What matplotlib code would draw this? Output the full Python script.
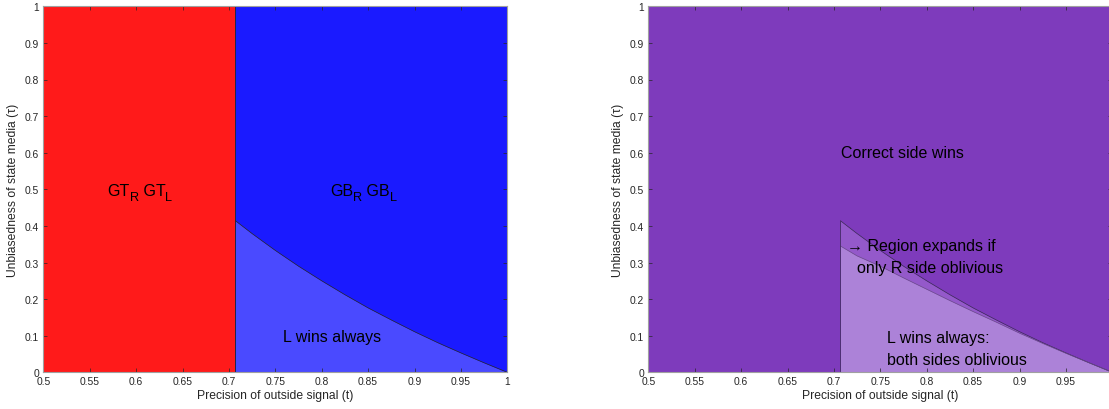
import matplotlib
matplotlib.use("Agg")
import matplotlib.pyplot as plt
from matplotlib.transforms import offset_copy

plt.rcParams["font.family"] = ["Liberation Sans", "DejaVu Sans"]

# Threshold of outside-signal precision where the regimes switch
t_switch = 0.7071

# Boundary of the "L wins always" region (both sides oblivious)
t_both = [0.7071, 0.725, 0.75, 0.775, 0.80, 0.825, 0.85, 0.875, 0.90, 0.925, 0.95, 0.975, 1.0]
r_both = [0.414, 0.379, 0.333, 0.290, 0.250, 0.212, 0.176, 0.143, 0.111, 0.081, 0.053, 0.026, 0.0]

# Boundary when only the R side is oblivious
t_ronly = [0.7071, 0.725, 0.75, 0.775, 0.80, 0.825, 0.85, 0.875, 0.90, 0.925, 0.95, 0.975, 1.0]
r_ronly = [0.345, 0.318, 0.290, 0.258, 0.227, 0.196, 0.166, 0.137, 0.107, 0.079, 0.052, 0.026, 0.0]

x_ticks = [0.5, 0.55, 0.6, 0.65, 0.7, 0.75, 0.8, 0.85, 0.9, 0.95, 1.0]
x_ticklabels = ["0.5", "0.55", "0.6", "0.65", "0.7", "0.75", "0.8", "0.85", "0.9", "0.95", "1"]
y_ticks = [0, 0.1, 0.2, 0.3, 0.4, 0.5, 0.6, 0.7, 0.8, 0.9, 1.0]
y_ticklabels = ["0", "0.1", "0.2", "0.3", "0.4", "0.5", "0.6", "0.7", "0.8", "0.9", "1"]

RED = "#FF1A1A"
BLUE = "#1A1AFF"
LIGHT_BLUE = "#4A4AFF"
PURPLE = "#7E3BBC"
MID_PURPLE = "#9459CA"
LIGHT_PURPLE = "#AC82D8"
EDGE = "#262626"
TICK = "#262626"
FS = 11.5

W, H = 1109, 410
fig = plt.figure(figsize=(W / 100, H / 100), dpi=100)
renderer = fig.canvas.get_renderer()

def px_axes(x0, y_top, w, h):
    return fig.add_axes([x0 / W, (H - y_top - h) / H, w / W, h / H])

ax1 = px_axes(43.3, 7.3, 464, 366)
ax2 = px_axes(648.3, 7.3, 464, 366)


def style(ax, xt, xtl):
    ax.set_xlim(0.5, 1.0)
    ax.set_ylim(0, 1)
    ax.set_xticks(xt)
    ax.set_xticklabels(xtl)
    ax.set_yticks(y_ticks)
    ax.set_yticklabels(y_ticklabels)
    ax.tick_params(direction="in", length=3, width=0.5, colors=TICK,
                   labelsize=7.4, top=True, right=True, pad=3)
    for s in ax.spines.values():
        s.set_color("#a0a0a0")
        s.set_linewidth(0.8)
    ax.set_xlabel("Precision of outside signal (t)", fontsize=8.7, color=TICK, labelpad=2)
    ax.set_ylabel("Unbiasedness of state media (τ)", fontsize=8.7, color=TICK, labelpad=4)


def subscripted(ax, x, y, parts):
    """Draw a run of (text, is_subscript) pieces starting at data point (x, y)."""
    dx = 0.0
    for txt, sub in parts:
        size = FS * 0.8 if sub else FS
        dy = -4.0 if sub else 0.0
        tr = offset_copy(ax.transData, fig=fig, x=dx, y=dy, units="points")
        t = ax.text(x, y, txt, fontsize=size, va="baseline", ha="left", transform=tr)
        dx += t.get_window_extent(renderer).width * 72.0 / fig.dpi


# Left panel: regimes by outside-signal precision
ax1.axvspan(0.5, t_switch, color=RED, lw=0)
ax1.axvspan(t_switch, 1.0, color=BLUE, lw=0)
ax1.fill_between(t_both, 0, r_both, color=LIGHT_BLUE, lw=0)
ax1.plot(t_both, r_both, color=EDGE, lw=0.5)
ax1.plot([t_switch, t_switch], [0, 1], color=EDGE, lw=0.6)
style(ax1, x_ticks, x_ticklabels)

subscripted(ax1, 0.569, 0.485, [("GT", False), ("R", True), (" GT", False), ("L", True)])
subscripted(ax1, 0.809, 0.485, [("GB", False), ("R", True), (" GB", False), ("L", True)])
ax1.text(0.7586, 0.098, "L wins always", fontsize=FS, va="center", ha="left")

# Right panel: who wins depending on which side is oblivious
ax2.axvspan(0.5, 1.0, color=PURPLE, lw=0)
ax2.fill_between(t_both, 0, r_both, color=MID_PURPLE, lw=0)
ax2.fill_between(t_ronly, 0, r_ronly, color=LIGHT_PURPLE, lw=0)
ax2.plot(t_both, r_both, color="#3a2a55", lw=0.5)
ax2.plot(t_ronly, r_ronly, color="#6a4a8a", lw=0.5)
ax2.plot([t_switch, t_switch], [0, r_both[0]], color="#3a2a55", lw=0.5)
style(ax2, x_ticks[:-1], x_ticklabels[:-1])
ax2.set_xlim(0.5, 1.0)

ax2.text(0.7075, 0.6, "Correct side wins", fontsize=FS, va="center", ha="left")
ax2.text(0.714, 0.346, "\u2192 Region expands if", fontsize=FS, va="center", ha="left")
ax2.text(0.7245, 0.286, "only R side oblivious", fontsize=FS, va="center", ha="left")
ax2.text(0.757, 0.094, "L wins always:", fontsize=FS, va="center", ha="left")
ax2.text(0.7575, 0.035, "both sides oblivious", fontsize=FS, va="center", ha="left")

fig.savefig("out.png", dpi=100)
